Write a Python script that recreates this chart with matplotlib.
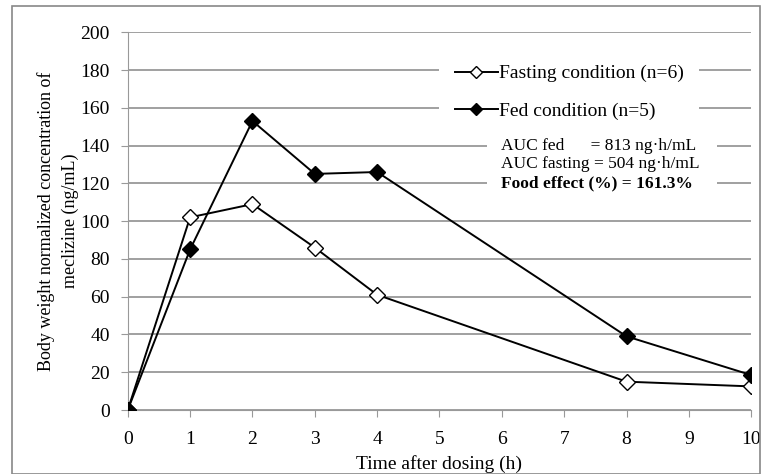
import matplotlib.pyplot as plt
from matplotlib.patches import Rectangle

plt.rcParams['font.family'] = ['Liberation Serif', 'DejaVu Serif']

time_h = [0, 1, 2, 3, 4, 8, 10]
fasting = [0, 102, 109, 86, 61, 15, 12.5]
fed = [0, 85, 153, 125, 126, 39, 18.5]

fig = plt.figure(figsize=(7.65, 4.74), dpi=100)
ax = fig.add_axes([0.167, 0.135, 0.815, 0.797])

# outer frame
fig.patches.append(Rectangle((0.016, 0.0), 0.978, 0.987, transform=fig.transFigure,
                             fill=False, edgecolor='#888888', linewidth=1.2))

ax.plot(time_h, fasting, color='black', lw=1.4, marker='D', markersize=8,
        markerfacecolor='white', markeredgecolor='black', label='Fasting condition (n=6)', zorder=3)
ax.plot(time_h, fed, color='black', lw=1.4, marker='D', markersize=8,
        markerfacecolor='black', markeredgecolor='black', label='Fed condition (n=5)', zorder=3)

ax.set_xlim(0, 10)
ax.set_ylim(0, 200)
ax.set_xticks(range(0, 11))
ax.set_yticks(range(0, 201, 20))
ax.yaxis.grid(True, color='#999999', lw=1.3)
ax.set_axisbelow(True)
for s in ['top', 'right']:
    ax.spines[s].set_visible(False)
ax.spines['left'].set_color('#999999')
ax.spines['bottom'].set_color('#999999')
ax.tick_params(axis='both', labelsize=14, color='#999999', length=5)
ax.tick_params(axis='x', pad=10)
ax.tick_params(axis='y', pad=8)
ax.set_xlabel('Time after dosing (h)', fontsize=14, labelpad=5)
ax.set_ylabel('Body weight normalized concentration of\nmeclizine (ng/mL)', fontsize=13,
              labelpad=1, linespacing=1.5)

leg = ax.legend(loc='upper left', bbox_to_anchor=(0.50, 0.955), fontsize=14, frameon=True,
                handlelength=2.2, handletextpad=0.05, borderpad=0.8, labelspacing=1.0,
                borderaxespad=0, markerscale=0.75)
leg.get_frame().set_edgecolor('none')
leg.get_frame().set_facecolor('white')
leg.get_frame().set_alpha(1)

# white background behind the AUC notes
tr = ax.get_yaxis_transform()
ax.add_patch(Rectangle((0.576, 112), 0.369, 36, transform=tr, facecolor='white',
                       edgecolor='none', zorder=2))
ax.text(0.599, 140, 'AUC fed      = 813 ng\u00b7h/mL', transform=tr,
        fontsize=12.5, va='center', zorder=4)
ax.text(0.599, 130.5, 'AUC fasting = 504 ng\u00b7h/mL', transform=tr,
        fontsize=12.5, va='center', zorder=4)
ax.text(0.599, 120, 'Food effect (%) = 161.3%', transform=tr,
        fontsize=12.5, va='center', fontweight='bold', zorder=4)

fig.savefig('out.png', dpi=100)
